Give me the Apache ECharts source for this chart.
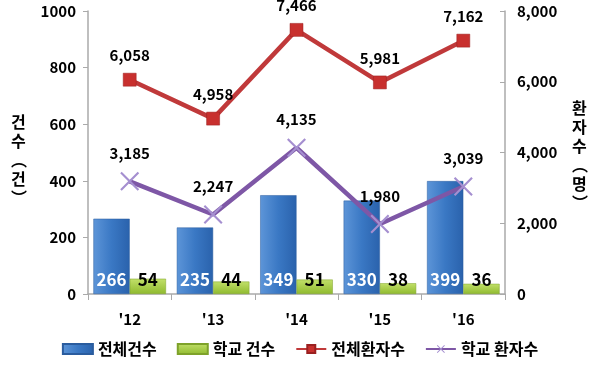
<!DOCTYPE html>
<html><head><meta charset="utf-8">
<script src="https://cdn.jsdelivr.net/npm/echarts@6/dist/echarts.min.js"></script>
<style>html,body{margin:0;padding:0;background:#fff}#c{width:600px;height:366px}</style>
</head><body><div id="c"></div>
<script>
const categories = ["'12", "'13", "'14", "'15", "'16"];
const totalCases = [266, 235, 349, 330, 399];
const schoolCases = [54, 44, 51, 38, 36];
const totalPatients = [6058, 4958, 7466, 5981, 7162];
const schoolPatients = [3185, 2247, 4135, 1980, 3039];
const leftTicks = [0, 200, 400, 600, 800, 1000];
const rightTicks = [0, 2000, 4000, 6000, 8000];

const FONT = '"Noto Sans CJK KR", "Noto Sans", sans-serif';
const chart = echarts.init(document.getElementById('c'));
const xPath = 'path://M0,0.8L0.8,0L5,4.2L9.2,0L10,0.8L5.8,5L10,9.2L9.2,10L5,5.8L0.8,10L0,9.2L4.2,5Z';
const fmt = v => v.toLocaleString('en-US');
chart.setOption({
  animation: false,
  textStyle: {fontFamily: FONT},
  grid: {left: 88, right: 95, top: 11, bottom: 72},
  legend: {
    bottom: 4, left: 'center', itemGap: 20, itemWidth: 30, itemHeight: 10,
    textStyle: {fontSize: 16, fontWeight: 'bold', color: '#000', fontFamily: FONT},
    data: [
      {name: '전체건수', icon: 'rect'},
      {name: '학교 건수', icon: 'rect'},
      {name: '전체환자수'},
      {name: '학교 환자수'}
    ]
  },
  xAxis: {
    type: 'category', data: categories,
    axisLine: {lineStyle: {color: '#aaa', width: 1.5}},
    axisTick: {show: true, length: 6, lineStyle: {color: '#aaa'}},
    axisLabel: {fontSize: 15, fontWeight: 'bold', color: '#000', margin: 18}
  },
  yAxis: [
    {type: 'value', min: 0, max: 1000, interval: 200,
     axisLine: {show: true, lineStyle: {color: '#aaa', width: 1.5}},
     axisTick: {show: true, length: 5, lineStyle: {color: '#aaa'}},
     splitLine: {show: false},
     axisLabel: {fontSize: 15, fontWeight: 'bold', color: '#000', margin: 12,
       formatter: v => leftTicks.includes(v) ? String(v) : ''}},
    {type: 'value', min: 0, max: 8000, interval: 2000, position: 'right',
     axisLine: {show: true, lineStyle: {color: '#aaa', width: 1.5}},
     axisTick: {show: true, inside: true, length: 5, lineStyle: {color: '#aaa'}},
     splitLine: {show: false},
     axisLabel: {fontSize: 15, fontWeight: 'bold', color: '#000', margin: 12,
       formatter: v => rightTicks.includes(v) ? fmt(v) : ''}}
  ],
  graphic: [
    {type: 'text', left: 11, top: 112, style: {text: '건\n수\n︵\n건\n︶', font: 'bold 16px ' + FONT, lineHeight: 19, fill: '#000', align: 'center'}},
    {type: 'text', left: 572, top: 98, style: {text: '환\n자\n수\n︵\n명\n︶', font: 'bold 16px ' + FONT, lineHeight: 19, fill: '#000', align: 'center'}}
  ],
  series: [
    {name: '전체건수', type: 'bar', data: totalCases, barGap: '0%', barCategoryGap: '13%',
     itemStyle: {color: new echarts.graphic.LinearGradient(0, 0, 1, 0, [
       {offset: 0, color: '#5d95d8'}, {offset: 0.5, color: '#3a78c4'}, {offset: 1, color: '#2a62ac'}]),
       borderColor: '#2a5c9e', borderWidth: 0.5},
     label: {show: true, position: 'insideBottom', distance: 6, color: '#fff', fontSize: 17, fontWeight: 'bold'}},
    {name: '학교 건수', type: 'bar', data: schoolCases,
     itemStyle: {color: new echarts.graphic.LinearGradient(0, 0, 0, 1, [
       {offset: 0, color: '#c2e06a'}, {offset: 1, color: '#8fba2e'}]),
       borderColor: '#7ea22a', borderWidth: 0.5},
     label: {show: true, position: 'insideBottom', distance: 6, color: '#000', fontSize: 17, fontWeight: 'bold'}},
    {name: '전체환자수', type: 'line', yAxisIndex: 1, data: totalPatients,
     symbol: 'rect', symbolSize: 13,
     lineStyle: {color: '#c0393a', width: 4.5},
     itemStyle: {color: '#c8302e', borderColor: '#9a2020', borderWidth: 0.5},
     label: {show: true, position: 'top', distance: 10, color: '#000', fontSize: 15, fontWeight: 'bold', formatter: p => fmt(p.value)}},
    {name: '학교 환자수', type: 'line', yAxisIndex: 1, data: schoolPatients,
     symbol: xPath, symbolSize: 19,
     lineStyle: {color: '#7e57a6', width: 4.5},
     itemStyle: {color: '#a58fd0'},
     label: {show: true, position: 'top', distance: 11, color: '#000', fontSize: 15, fontWeight: 'bold', formatter: p => fmt(p.value)}}
  ]
});
</script></body></html>
